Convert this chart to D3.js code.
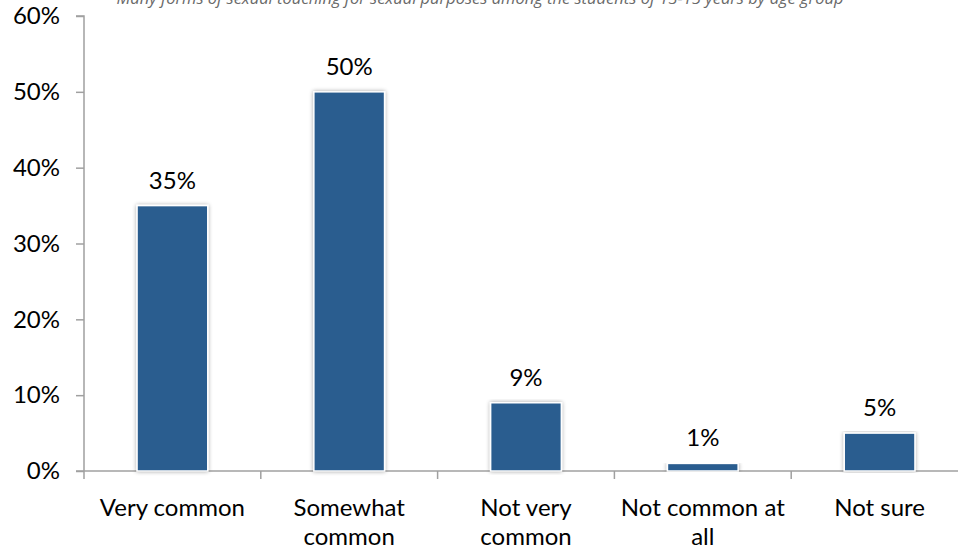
<!DOCTYPE html>
<html><head><meta charset="utf-8">
<script src="https://cdn.jsdelivr.net/npm/d3@7"></script>
<style>
body{margin:0;background:#fff;}
svg{display:block;font-family:Lato,"Open Sans",sans-serif;}
</style></head>
<body><svg id="c" width="958" height="549"></svg>
<script>
const categories = [["Very common"],["Somewhat","common"],["Not very","common"],["Not common at","all"],["Not sure"]];
const values = [35, 50, 9, 1, 5];
const yTicks = [0, 10, 20, 30, 40, 50, 60];
const title = "Many forms of sexual touching for sexual purposes among the students of 13-15 years by age group";

const svg = d3.select("#c");
const plotLeft = 84, plotTop = 16, plotBottom = 471, bandW = 176.8;
const FS = 24;
const x = d3.scaleBand().domain(d3.range(values.length)).range([plotLeft, plotLeft + bandW*values.length]).paddingInner(0.6).paddingOuter(0.3);
const y = d3.scaleLinear().domain([0, 60]).range([plotBottom, plotTop]);

const defs = svg.append("defs");
const f = defs.append("filter").attr("id","sh").attr("x","-20%").attr("y","-5%").attr("width","140%").attr("height","110%");
f.append("feGaussianBlur").attr("in","SourceAlpha").attr("stdDeviation",2.2).attr("result","b");
f.append("feComponentTransfer").attr("in","b").attr("result","b2").append("feFuncA").attr("type","linear").attr("slope",0.35);
const m = f.append("feMerge"); m.append("feMergeNode").attr("in","b2"); m.append("feMergeNode").attr("in","SourceGraphic");

svg.append("text").attr("x", 480).attr("y", 4).attr("text-anchor","middle")
  .attr("font-style","italic").attr("font-size",16.5).attr("fill","#6a6a6a").attr("font-family","'Open Sans',sans-serif").text(title);

// y axis
const yAxis = d3.axisLeft(y).tickValues(yTicks).tickFormat(d => d + "%").tickSize(8).tickPadding(16);
const gy = svg.append("g").attr("transform",`translate(${plotLeft},0)`).call(yAxis);
gy.select(".domain").attr("stroke","#a0a0a0").attr("stroke-width",1.5).attr("d",`M-8,${plotTop}H0V${plotBottom}`);
gy.selectAll(".tick line").attr("stroke","#a0a0a0").attr("stroke-width",1.5);
gy.selectAll(".tick text").attr("font-size",FS).attr("fill","#000").attr("font-family","Lato,sans-serif");

// x axis
const gx = svg.append("g");
gx.append("line").attr("x1",plotLeft-8).attr("x2",958).attr("y1",plotBottom).attr("y2",plotBottom).attr("stroke","#a0a0a0").attr("stroke-width",1.5);
gx.selectAll("line.t").data(d3.range(values.length+1)).join("line").attr("class","t")
  .attr("x1",i=>plotLeft+i*bandW).attr("x2",i=>plotLeft+i*bandW).attr("y1",plotBottom).attr("y2",plotBottom+8)
  .attr("stroke","#a0a0a0").attr("stroke-width",1.5);

// bars
svg.append("g").selectAll("rect").data(values).join("rect")
  .attr("x",(d,i)=>x(i)).attr("width",x.bandwidth())
  .attr("y",d=>y(d)).attr("height",d=>plotBottom-y(d))
  .attr("fill","#2a5d8f").attr("stroke","#fff").attr("stroke-width",1.5).attr("filter","url(#sh)");

// value labels
svg.append("g").selectAll("text").data(values).join("text")
  .attr("x",(d,i)=>x(i)+x.bandwidth()/2).attr("y",d=>y(d)-17)
  .attr("text-anchor","middle").attr("font-size",FS).attr("fill","#000").text(d=>d+"%");

// category labels
const cl = svg.append("g").selectAll("text").data(categories).join("text")
  .attr("x",(d,i)=>x(i)+x.bandwidth()/2).attr("y",516)
  .attr("text-anchor","middle").attr("font-size",FS).attr("fill","#000");
cl.selectAll("tspan").data(d=>d).join("tspan")
  .attr("x",function(){return this.parentNode.getAttribute("x");})
  .attr("dy",(d,i)=>i?29:0).text(d=>d);
</script></body></html>
